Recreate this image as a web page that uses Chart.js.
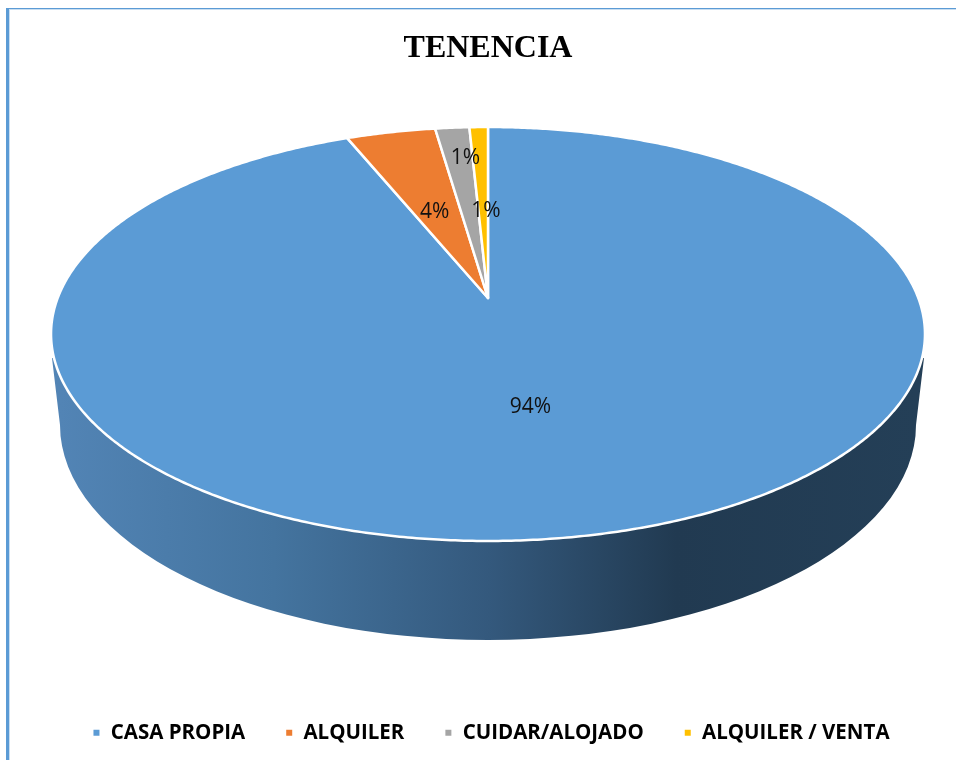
<!DOCTYPE html>
<html>
<head>
<meta charset="utf-8">
<script src="https://cdn.jsdelivr.net/npm/chart.js@4"></script>
<style>
html,body{margin:0;padding:0;background:#fff;width:956px;height:760px;overflow:hidden}
#frame{position:absolute;left:6px;top:8px;width:950px;height:752px;box-sizing:border-box;border-left:3px solid #5b9bd5;border-top:1px solid #5b9bd5}
#inner{width:100%;height:100%;box-sizing:border-box;border-left:1px solid #c9def1;border-top:1px solid #c9def1}
canvas{position:absolute;left:0;top:0}
</style>
</head>
<body>
<div id="frame"><div id="inner"></div></div>
<canvas id="c" width="956" height="760"></canvas>
<script>
const titleText = 'TENENCIA';
const categories = ['CASA PROPIA', 'ALQUILER', 'CUIDAR/ALOJADO', 'ALQUILER / VENTA'];
const shares = [93.8, 3.9, 1.49, 0.81];
const sliceColors = ['#5b9bd5', '#ed7d31', '#a5a5a5', '#ffc000'];

// Look of the tilted disc (perspective of the top face, and its side wall)
const view = {
  apexY: 298, depthA: 200.7, persp: 0.1739, widthB: 430.3,
  rimY: 358, baseY: 425, baseRx: 428, baseRy: 215,
  labelRadius: [0.5, 0.5, 0.8, 0.5],
  labelNudge: [[-3, 1], [-1, 3], [7, 0], [3, 5]]
};

function project(cx, u, v) {
  const w = 1 + view.persp * v;
  return [cx + view.widthB * u / w, view.apexY - view.depthA * v / w];
}

const tiltedPie = {
  id: 'tiltedPie',
  afterLayout(chart) {
    chart.legend.left += 6;
  },
  beforeDatasetsDraw(chart) {
    const ctx = chart.ctx;
    const arcs = chart.getDatasetMeta(0).data;
    const cx = arcs[0].x;
    ctx.save();

    // side wall
    const grad = ctx.createLinearGradient(cx - view.baseRx, 0, cx + view.baseRx, 0);
    grad.addColorStop(0, '#5284b5');
    grad.addColorStop(0.25, '#44749f');
    grad.addColorStop(0.5, '#34597d');
    grad.addColorStop(0.72, '#213a51');
    grad.addColorStop(1, '#243f57');
    ctx.fillStyle = grad;
    ctx.beginPath();
    ctx.moveTo(cx - 436, view.rimY);
    ctx.ellipse(cx, view.baseY, view.baseRx, view.baseRy, 0, Math.PI, 0, true);
    ctx.lineTo(cx + 436, view.rimY);
    ctx.closePath();
    ctx.fill();

    // top face: every slice from the arc angles computed by the library
    arcs.forEach((arc, i) => {
      ctx.beginPath();
      ctx.moveTo(...project(cx, 0, 0));
      const steps = Math.max(2, Math.ceil((arc.endAngle - arc.startAngle) * 120));
      for (let s = 0; s <= steps; s++) {
        const a = arc.startAngle + (arc.endAngle - arc.startAngle) * s / steps;
        ctx.lineTo(...project(cx, Math.cos(a), -Math.sin(a)));
      }
      ctx.closePath();
      ctx.fillStyle = arc.options.backgroundColor;
      ctx.fill();
      ctx.strokeStyle = '#fff';
      ctx.lineWidth = 2.5;
      ctx.lineJoin = 'round';
      ctx.stroke();
    });

    // percentage labels
    ctx.fillStyle = '#111';
    ctx.font = '21px "Open Sans"';
    ctx.textAlign = 'center';
    ctx.textBaseline = 'middle';
    arcs.forEach((arc, i) => {
      const a = (arc.startAngle + arc.endAngle) / 2;
      const r = view.labelRadius[i];
      const p = project(cx, r * Math.cos(a), -r * Math.sin(a));
      ctx.fillText(Math.round(shares[i]) + '%', p[0] + view.labelNudge[i][0], p[1] + view.labelNudge[i][1]);
    });
    ctx.restore();
    return false;
  }
};

new Chart(document.getElementById('c'), {
  type: 'pie',
  data: {
    labels: categories,
    datasets: [{ data: shares, backgroundColor: sliceColors, borderColor: '#fff', borderWidth: 2 }]
  },
  options: {
    responsive: false,
    animation: false,
    events: [],
    layout: { padding: { left: 20, bottom: 7 } },
    plugins: {
      tooltip: { enabled: false },
      title: {
        display: true,
        text: titleText,
        color: '#000',
        font: { family: '"Liberation Serif"', size: 32, weight: 'bold', lineHeight: 1.2 },
        padding: { top: 30, bottom: 10 }
      },
      legend: {
        position: 'bottom',
        labels: {
          boxWidth: 8,
          boxHeight: 8,
          padding: 40,
          color: '#000',
          font: { family: '"Open Sans"', size: 20.5, weight: 'bold' }
        }
      }
    }
  },
  plugins: [tiltedPie]
});
</script>
</body>
</html>
